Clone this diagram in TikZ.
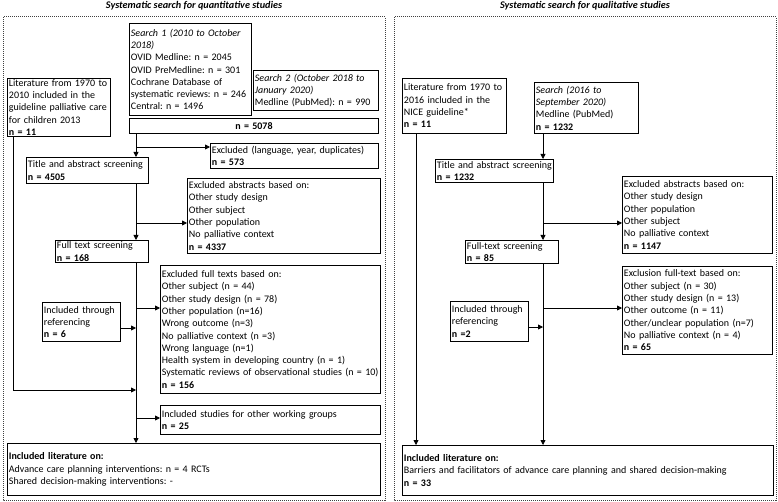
\documentclass[tikz,border=0pt]{standalone}
\usepackage{fontspec}
\setmainfont{Carlito}
\usepackage{tikz}
\usetikzlibrary{arrows.meta, positioning, calc}
\hyphenpenalty=10000
\exhyphenpenalty=10000
\frenchspacing

\begin{document}
\begin{tikzpicture}[x=1pt, y=-1pt,
  box/.style={draw, line width=0.9pt, anchor=north west, align=left, inner xsep=1.5pt, inner ysep=1pt,
    font=\fontsize{10}{12.3}\selectfont},
  frame/.style={densely dotted, line width=1pt, black!75},
  arr/.style={line width=0.8pt, -{Triangle[length=5pt,width=5pt]}},
  ttlfont/.style={font=\fontsize{10.2}{12}\selectfont\bfseries\itshape}]
\useasboundingbox (0,0) rectangle (778,502);
% Frames and titles
\draw[frame] (3,17) rectangle (385,500);
\draw[frame] (394,17) rectangle (776,500);
\node[ttlfont] (tquan) at (194,6) {Systematic search for quantitative studies};
\node[ttlfont] (tqual) at (585,6) {Systematic search for qualitative studies};
% Quantitative studies
\node[box, text width=100pt, minimum height=47pt] (lit1) at (7,78)
  {Literature from 1970 to\\2010 included in the\\guideline palliative care\\for children 2013\\\textbf{n = 11}};
\node[box, text width=119pt, minimum height=92pt] (srch1) at (129,23)
  {\textit{Search 1 (2010 to October}\\\textit{2018)}\\OVID Medline: n = 2045\\OVID PreMedline: n = 301\\Cochrane Database of\\systematic reviews: n = 246\\Central: n = 1496};
\node[box, text width=122pt, minimum height=40pt] (srch2) at (253,70)
  {\textit{Search 2 (October 2018 to}\\\textit{January 2020)}\\Medline (PubMed): n = 990};
\node[box, align=center, text width=246pt, minimum height=15pt] (n5078) at (129,118) {\textbf{n = 5078}};
\node[box, text width=119pt, minimum height=26pt] (ttl1) at (26,157) {Title and abstract screening\\\textbf{n = 4505}};
\node[box, text width=165pt, minimum height=25pt] (exl1) at (210,143) {Excluded (language, year, duplicates)\\\textbf{n = 573}};
\node[box, text width=190pt, minimum height=75pt] (exa1) at (187,178)
  {Excluded abstracts based on:\\Other study design\\Other subject\\Other population\\No palliative context\\\textbf{n = 4337}};
\node[box, text width=90pt, minimum height=22pt] (ful1) at (55,240) {Full text screening\\\textbf{n = 168}};
\node[box, text width=217pt, minimum height=128pt] (exf1) at (160,265)
  {Excluded full texts based on:\\Other subject (n = 44)\\Other study design (n = 78)\\Other population (n=16)\\Wrong outcome (n=3)\\No palliative context (n =3)\\Wrong language (n=1)\\Health system in developing country (n = 1)\\Systematic reviews of observational studies (n = 10)\\\textbf{n = 156}};
\node[box, text width=75pt, minimum height=39pt] (ref1) at (42,302) {Included through\\referencing\\\textbf{n = 6}};
\node[box, text width=217pt, minimum height=29pt] (oth1) at (160,405) {Included studies for other working groups\\\textbf{n = 25}};
\node[box, text width=370pt, minimum height=52pt] (inc1) at (7,443)
  {\textbf{Included literature on:}\\Advance care planning interventions: n = 4 RCTs\\Shared decision-making interventions: -};
% Quantitative connectors
\coordinate (lx) at (136,0);
\coordinate (lc) at (13,390);
\draw[arr] (n5078.south -| lx) -- (ttl1.north -| lx);
\draw[arr] (lx |- 0,147) -- (exl1.west |- 0,147);
\draw[arr] (ttl1.south -| lx) -- (ful1.north -| lx);
\draw[arr] (lx |- 0,223) -- (exa1.west |- 0,223);
\draw[arr] (ful1.south -| lx) -- (inc1.north -| lx);
\draw[arr] (lx |- 0,308) -- (exf1.west |- 0,308);
\draw[arr] (ref1.east |- 0,328) -- (lx |- 0,328);
\draw[arr] (lit1.south -| lc) -- (lc) -- (lc -| lx);
\draw[arr] (lx |- 0,418) -- (oth1.west |- 0,418);
% Qualitative studies
\node[box, text width=101pt, minimum height=55pt] (lit2) at (402,78)
  {Literature from 1970 to\\2016 included in the\\NICE guideline*\\\textbf{n = 11}};
\node[box, text width=101pt, minimum height=51pt] (srch3) at (534,82)
  {\textit{Search (2016 to}\\\textit{September 2020)}\\Medline (PubMed)\\\textbf{n = 1232}};
\node[box, text width=115pt, minimum height=23pt] (ttl2) at (435,159) {Title and abstract screening\\\textbf{n = 1232}};
\node[box, text width=147pt, minimum height=77pt] (exa2) at (622,176)
  {Excluded abstracts based on:\\Other study design\\Other population\\Other subject\\No palliative context\\\textbf{n = 1147}};
\node[box, text width=90pt, minimum height=23pt] (ful2) at (465,240) {Full-text screening\\\textbf{n = 85}};
\node[box, text width=147pt, minimum height=88pt] (exf2) at (622,266)
  {Exclusion full-text based on:\\Other subject (n = 30)\\Other study design (n = 13)\\Other outcome (n = 11)\\Other/unclear population (n=7)\\No palliative context (n = 4)\\\textbf{n = 65}};
\node[box, text width=75pt, minimum height=40pt] (ref2) at (450,301) {Included through\\referencing\\\textbf{n =2}};
\node[box, text width=368pt, minimum height=50pt] (inc2) at (402,445)
  {\textbf{Included literature on:}\\Barriers and facilitators of advance care planning and shared decision-making\\\textbf{n = 33}};
% Qualitative connectors
\coordinate (rx) at (543,0);
\coordinate (rl) at (416,0);
\draw[arr] (srch3.south -| rx) -- (ttl2.north -| rx);
\draw[arr] (ttl2.south -| rx) -- (ful2.north -| rx);
\draw[arr] (rx |- 0,223) -- (exa2.west |- 0,223);
\draw[arr] (ful2.south -| rx) -- (inc2.north -| rx);
\draw[arr] (rx |- 0,308) -- (exf2.west |- 0,308);
\draw[arr] (ref2.east |- 0,327) -- (rx |- 0,327);
\draw[arr] (lit2.south -| rl) -- (inc2.north -| rl);
\end{tikzpicture}
\end{document}
